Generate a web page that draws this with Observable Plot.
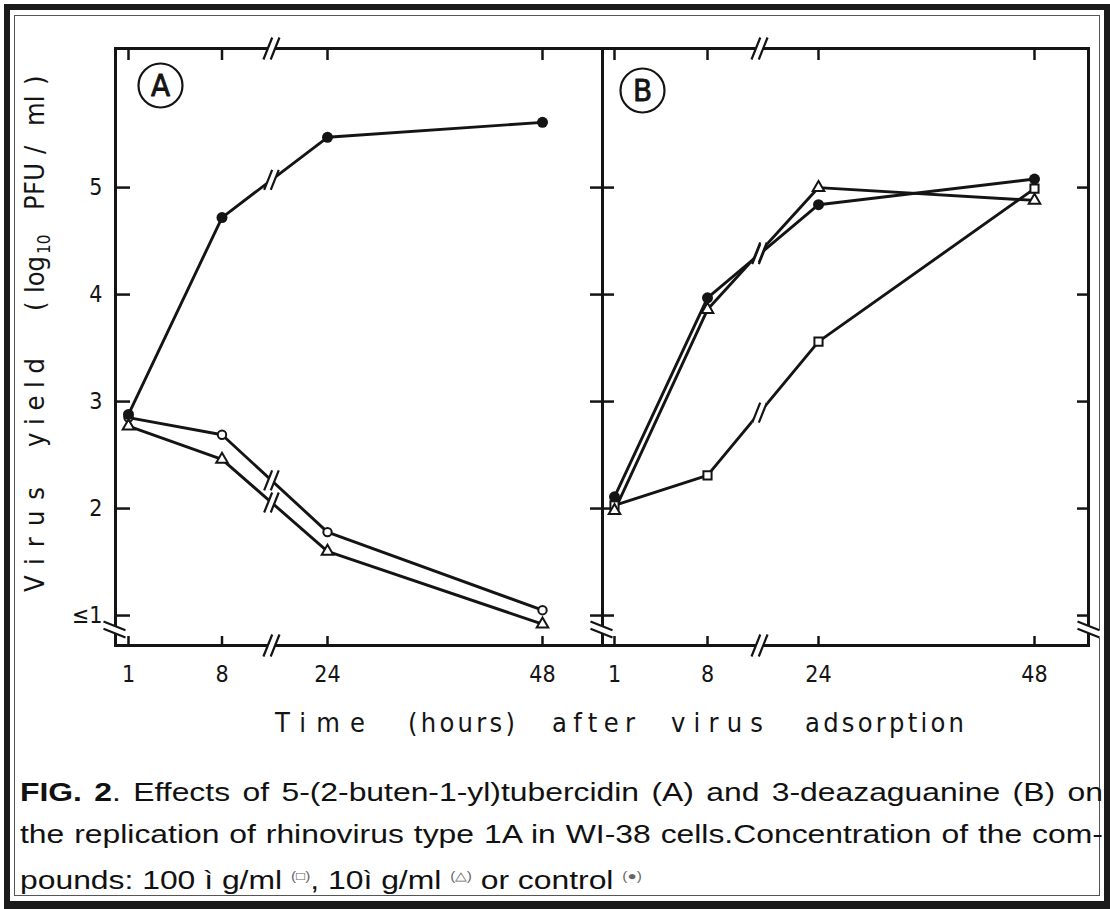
<!DOCTYPE html>
<html>
<head>
<meta charset="utf-8">
<script src="https://cdn.jsdelivr.net/npm/d3@7"></script>
<script src="https://cdn.jsdelivr.net/npm/@observablehq/plot@0.6"></script>
<style>
  html, body { margin: 0; padding: 0; background: #fff; }
  #page { position: relative; width: 1110px; height: 909px; overflow: hidden; background: #fff; }
  .outer { position: absolute; left: 4px; top: 4px; width: 1106px; height: 905px; box-sizing: border-box;
           border: 6px solid #1b1b1b; border-bottom-width: 8px; }
  .inner { position: absolute; left: 14px; top: 15px; width: 1086px; height: 881px; box-sizing: border-box;
           border: 1.5px solid #555; }
  #chart { position: absolute; left: 0; top: 0; width: 1110px; height: 760px; }
  #chart svg { position: absolute; left: 0; top: 0; }
  #caption { position: absolute; left: 20px; top: 771px; width: 850px; transform: scaleX(1.274); transform-origin: 0 0;
             font-family: "Liberation Sans", Arial, sans-serif; font-size: 25px; line-height: 42px; color: #111; }
  #caption .j { display: block; text-align: justify; text-align-last: justify; }
  #caption .l { display: block; text-align: left; }
  #caption .sym { font-size: 12px; color: #666; vertical-align: 9px; }
</style>
</head>
<body>
<div id="page">
  <div class="outer"></div>
  <div class="inner"></div>
  <div id="chart"></div>
  <div id="caption">
    <span class="j"><b>FIG. 2</b>. Effects of 5-(2-buten-1-yl)tubercidin (A) and 3-deazaguanine (B) on</span>
    <span class="j">the replication of rhinovirus type 1A in WI-38 cells.Concentration of the com-</span>
    <span class="l">pounds: 100 ì g/ml <span class="sym">(□)</span>, 10ì g/ml <span class="sym">(△)</span> or control <span class="sym">(●)</span></span>
  </div>
</div>
<script>
// ---------------- data ----------------
const hours = [1, 8, 24, 48];
const yTicks = [1, 2, 3, 4, 5];
const yTickLabels = ["≤1", "2", "3", "4", "5"];
const panelNames = ["A", "B"];
// Panel A: 5-(2-buten-1-yl)tubercidin
const controlA = [2.88, 4.72, 5.47, 5.61];
const high100A = [2.85, 2.69, 1.78, 1.05];
const low10A   = [2.77, 2.46, 1.60, 0.92];
// Panel B: 3-deazaguanine
const controlB = [2.11, 3.97, 4.84, 5.08];
const high100B = [2.03, 2.31, 3.56, 4.99];
const low10B   = [1.98, 3.86, 5.00, 4.88];
// axis breaks (in data units)
const breakHour = 15.5;
const breakValue = 0.87;

// ---------------- layout / style ----------------
const ink = "#141414";
const font = "'DejaVu Sans Condensed', 'DejaVu Sans', sans-serif";
const W = 1110, H = 760;
const yDomain = [0.72, 6.3];

// custom "//" break symbols (r = half height of a slash)
function breakSymbol(vertical, part) {
  return {
    draw(ctx, size) {
      const r = Math.sqrt(size / Math.PI);
      const h = r, w = r * 0.4, g = r * 0.33;
      const P = (a, b) => vertical ? [b, -a] : [a, b]; // rotate for a vertical axis
      if (part === "gap") {
        const pts = [P(-g - w, h), P(-g + w, -h), P(g + w, -h), P(g - w, h)];
        ctx.moveTo(...pts[0]); pts.slice(1).forEach(p => ctx.lineTo(...p)); ctx.closePath();
      } else {
        for (const o of [-g, g]) { ctx.moveTo(...P(o - w, h)); ctx.lineTo(...P(o + w, -h)); }
      }
    }
  };
}
const gapH = breakSymbol(false, "gap"), slashH = breakSymbol(false, "lines");
const gapV = breakSymbol(true, "gap"), slashV = breakSymbol(true, "lines");

function breakMarks(data, opts, vertical, r) {
  return [
    Plot.dot(data, {...opts, r, symbol: vertical ? gapV : gapH, fill: "white", stroke: "white", strokeWidth: 1}),
    Plot.dot(data, {...opts, r, symbol: vertical ? slashV : slashH, fill: "none", stroke: ink, strokeWidth: 2.2})
  ];
}

function panelRows(panel, control, high, low) {
  return [
    ...hours.map((h, i) => ({panel, series: "control", hour: h, value: control[i]})),
    ...hours.map((h, i) => ({panel, series: "100", hour: h, value: high[i]})),
    ...hours.map((h, i) => ({panel, series: "10", hour: h, value: low[i]}))
  ];
}

// where each curve crosses the axis break
function lineBreaks(rows) {
  const t = (breakHour - hours[1]) / (hours[2] - hours[1]);
  return ["control", "100", "10"].map(s => {
    const a = rows.find(d => d.series === s && d.hour === hours[1]);
    const b = rows.find(d => d.series === s && d.hour === hours[2]);
    return {hour: breakHour, value: a.value + (b.value - a.value) * t};
  });
}

function makePanel(cfg) {
  const rows = cfg.rows;
  const bySeries = s => rows.filter(d => d.series === s);
  const marks = [
    Plot.frame({stroke: ink, strokeWidth: 3}),
    Plot.axisX({anchor: "top", ticks: hours, tickSize: -11, tickFormat: () => "", strokeWidth: 2.5, label: null}),
    Plot.axisX({anchor: "bottom", ticks: hours, tickSize: -9, tickFormat: () => "", strokeWidth: 2.5, label: null}),
    Plot.axisX({anchor: "bottom", ticks: hours, tickSize: 0, tickPadding: 20, fontSize: 23, label: null})
  ];
  if (cfg.leftLabels) {
    marks.push(Plot.axisY({anchor: "left", ticks: yTicks, tickSize: -15, tickFormat: () => "", strokeWidth: 2.5, label: null}));
    marks.push(Plot.axisY({anchor: "left", ticks: yTicks, tickSize: 0, tickPadding: 13,
      tickFormat: d => yTickLabels[yTicks.indexOf(d)], fontSize: 23, label: null}));
  } else {
    marks.push(Plot.axisY({anchor: "left", ticks: yTicks, tickSize: 24, dx: 12, tickFormat: () => "", strokeWidth: 2.5, label: null}));
    marks.push(Plot.axisY({anchor: "right", ticks: yTicks, tickSize: -12, tickFormat: () => "", strokeWidth: 2.5, label: null}));
  }
  // axis break glyphs
  marks.push(...breakMarks([breakHour], {x: d => d, frameAnchor: "top"}, false, 11));
  marks.push(...breakMarks([breakHour], {x: d => d, frameAnchor: "bottom"}, false, 11));
  marks.push(...breakMarks([breakValue], {y: d => d, frameAnchor: "left", dx: -1}, true, 11));
  if (!cfg.leftLabels) marks.push(...breakMarks([breakValue], {y: d => d, frameAnchor: "right"}, true, 11));

  // curves
  marks.push(Plot.line(rows, {x: "hour", y: "value", z: "series", stroke: ink, strokeWidth: 2.9}));
  marks.push(...breakMarks(lineBreaks(rows), {x: "hour", y: "value"}, false, 10));
  marks.push(Plot.dot(bySeries("100"), {x: "hour", y: "value", symbol: cfg.highSymbol, r: cfg.highR,
    fill: "white", stroke: ink, strokeWidth: 2}));
  marks.push(Plot.dot(bySeries("10"), {x: "hour", y: "value", symbol: "triangle", r: 4.3,
    fill: "white", stroke: ink, strokeWidth: 2}));
  marks.push(Plot.dot(bySeries("control"), {x: "hour", y: "value", r: 5.5, fill: ink}));

  // panel letter in a circle
  marks.push(Plot.dot([cfg.panel], {frameAnchor: "top-left", dx: cfg.labelDx, dy: cfg.labelDy, r: 22,
    fill: "none", stroke: ink, strokeWidth: 2.2}));
  marks.push(Plot.text([cfg.panel], {text: d => d, frameAnchor: "top-left", dx: cfg.labelDx, dy: cfg.labelDy + 1,
    textAnchor: "middle", lineAnchor: "middle",
    fontSize: 31, fill: ink, stroke: ink, strokeWidth: 0.8}));

  return Plot.plot({
    width: W, height: H,
    marginTop: 48, marginBottom: 115,
    marginLeft: cfg.marginLeft, marginRight: cfg.marginRight,
    x: {type: "linear", domain: hours, range: cfg.xRange},
    y: {type: "linear", domain: yDomain},
    style: {background: "transparent", fontFamily: font, color: ink, overflow: "visible"},
    marks
  });
}

const svgA = makePanel({
  panel: panelNames[0], rows: panelRows(panelNames[0], controlA, high100A, low10A),
  marginLeft: 115, marginRight: W - 602, xRange: [128, 221.5, 327, 542],
  highSymbol: "circle", highR: 4.2, leftLabels: true, labelDx: 45, labelDy: 37
});
const svgB = makePanel({
  panel: panelNames[1], rows: panelRows(panelNames[1], controlB, high100B, low10B),
  marginLeft: 602, marginRight: W - 1088, xRange: [614, 707, 818, 1034],
  highSymbol: "square", highR: 4.6, leftLabels: false, labelDx: 40, labelDy: 42
});

const chart = document.getElementById("chart");
chart.appendChild(svgA);
chart.appendChild(svgB);

// axis titles
const g = d3.select(svgA).append("g")
  .attr("fill", ink)
  .attr("text-anchor", "start")
  .style("font-family", font)
  .style("font-size", "27px");

const xWords = [
  {t: "Time", x0: 275, x1: 365},
  {t: "(hours)", x0: 408, x1: 515},
  {t: "after", x0: 552, x1: 635},
  {t: "virus", x0: 671, x1: 763},
  {t: "adsorption", x0: 805, x1: 964}
];
xWords.forEach(w => {
  g.append("text").attr("x", w.x0).attr("y", 732).attr("text-anchor", "start")
    .attr("textLength", w.x1 - w.x0).attr("lengthAdjust", "spacing").text(w.t);
});

const yWords = [
  {t: "Virus", top: 487, bottom: 592, fit: true},
  {t: "yield", top: 358, bottom: 447, fit: true},
  {t: "(", top: 300, bottom: 311},
  {t: "PFU", top: 163, bottom: 210, fit: true},
  {t: "/", top: 143, bottom: 154},
  {t: "ml", top: 95, bottom: 126},
  {t: ")", top: 73, bottom: 85}
];
yWords.forEach(w => {
  const t = g.append("text").attr("transform", `translate(44,${w.bottom}) rotate(-90)`).attr("text-anchor", "start").text(w.t);
  if (w.fit) t.attr("textLength", w.bottom - w.top).attr("lengthAdjust", "spacing");
});
const logT = g.append("text").attr("transform", "translate(44,293) rotate(-90)").attr("text-anchor", "start");
logT.append("tspan").text("log");
logT.append("tspan").attr("dy", 6).attr("dx", 2).style("font-size", "17px").text("10");
</script>
</body>
</html>
